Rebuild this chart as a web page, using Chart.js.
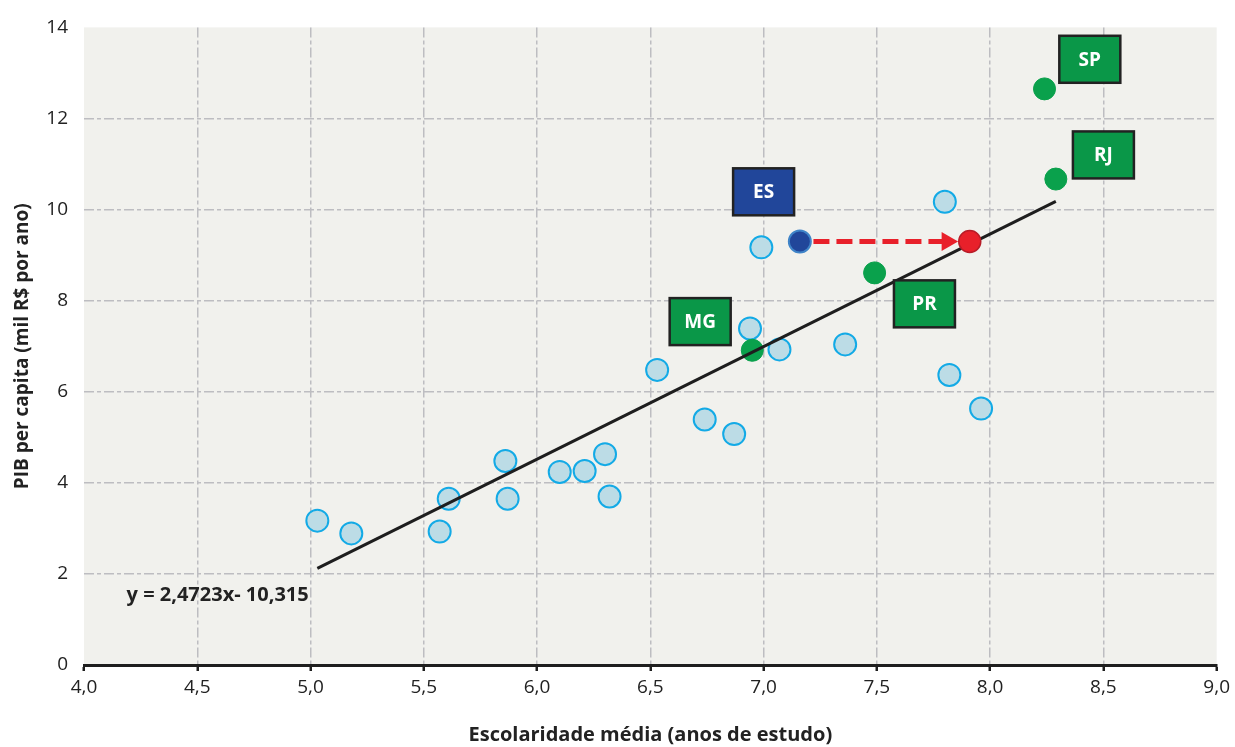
<!DOCTYPE html>
<html>
<head>
<meta charset="utf-8">
<script src="https://cdn.jsdelivr.net/npm/chart.js@4.4.0/dist/chart.umd.min.js"></script>
<style>
    html, body { margin: 0; padding: 0; background: #fff; }
    #wrap { width: 1235px; height: 747px; }
</style>
</head>
<body>
<div id="wrap"><canvas id="scatter"></canvas></div>
<script>
// other states (light blue dots): escolaridade x PIB per capita
const otherX = [5.03, 5.18, 5.57, 5.61, 5.86, 5.87, 6.10, 6.21, 6.30, 6.32, 6.53, 6.74, 6.87, 6.94, 6.99, 7.07, 7.36, 7.80, 7.82, 7.96];
const otherY = [3.17, 2.89, 2.93, 3.65, 4.48, 3.65, 4.24, 4.26, 4.63, 3.70, 6.48, 5.39, 5.07, 7.39, 9.17, 6.93, 7.04, 10.17, 6.37, 5.63];

// highlighted states
const greenStates = ['MG', 'PR', 'SP', 'RJ'];
const greenX = [6.95, 7.49, 8.24, 8.29];
const greenY = [6.91, 8.61, 12.65, 10.67];
const esPoint = { x: 7.16, y: 9.30 };
const targetPoint = { x: 7.91, y: 9.30 };
const arrowX = [7.22, 7.81];

// label boxes (where the tag sits)
const tagNames = ['ES', 'SP', 'RJ', 'MG', 'PR'];
const tagX = [7.00, 8.44, 8.50, 6.72, 7.71];
const tagY = [10.39, 13.30, 11.20, 7.54, 7.93];

// trend line y = 2,4723x - 10,315
const slope = 2.4723;
const intercept = -10.315;
const trendX = [5.03, 8.29];
const equationText = 'y = 2,4723x- 10,315';
const equationPos = { x: 4.59, y: 1.52 };

const xTicks = [4, 4.5, 5, 5.5, 6, 6.5, 7, 7.5, 8, 8.5, 9];
const yTicks = [0, 2, 4, 6, 8, 10, 12, 14];

const FONT = '"Open Sans", Lato, sans-serif';

const plotBg = {
    id: 'plotBg',
    beforeDraw(chart) {
        const { ctx, chartArea: a } = chart;
        ctx.save();
        ctx.fillStyle = '#f1f1ed';
        ctx.fillRect(a.left, a.top, a.right - a.left, a.bottom - a.top);
        ctx.restore();
    }
};

const tags = {
    id: 'tags',
    afterDatasetsDraw(chart) {
        const { ctx, scales: { x, y } } = chart;
        ctx.save();
        tagNames.forEach((name, i) => {
            const cx = x.getPixelForValue(tagX[i]);
            const cy = y.getPixelForValue(tagY[i]);
            const w = 61, h = 47;
            ctx.fillStyle = name === 'ES' ? '#21469a' : '#0a9748';
            ctx.fillRect(cx - w / 2, cy - h / 2, w, h);
            ctx.lineWidth = 2.5;
            ctx.strokeStyle = '#222';
            ctx.strokeRect(cx - w / 2, cy - h / 2, w, h);
            ctx.fillStyle = '#fff';
            ctx.font = 'bold 19px ' + FONT;
            ctx.textAlign = 'center';
            ctx.textBaseline = 'middle';
            ctx.fillText(name, cx, cy + 1);
        });
        ctx.fillStyle = '#222';
        ctx.font = 'bold 20px ' + FONT;
        ctx.textAlign = 'center';
        ctx.textBaseline = 'middle';
        ctx.fillText(equationText, x.getPixelForValue(equationPos.x), y.getPixelForValue(equationPos.y));
        ctx.restore();
    }
};

const fmt = v => v.toFixed(1).replace('.', ',');

new Chart(document.getElementById('scatter'), {
    type: 'scatter',
    data: {
        datasets: [
            {
                label: 'target',
                data: [targetPoint],
                backgroundColor: '#e8202a',
                borderColor: '#b81d28',
                borderWidth: 1.5,
                pointRadius: 11,
                order: 0
            },
            {
                label: 'arrow',
                data: arrowX.map(v => ({ x: v, y: esPoint.y })),
                showLine: true,
                borderColor: '#e8202a',
                backgroundColor: '#e8202a',
                borderWidth: 5,
                borderDash: [16, 7],
                pointStyle: 'triangle',
                rotation: 90,
                pointRadius: [0, 11],
                pointBorderWidth: 0,
                order: 1
            },
            {
                label: 'trend',
                data: trendX.map(v => ({ x: v, y: slope * v + intercept })),
                showLine: true,
                borderColor: '#1e1e1e',
                borderWidth: 3,
                pointRadius: 0,
                order: 1
            },
            {
                label: 'ES',
                data: [esPoint],
                backgroundColor: '#21469a',
                borderColor: '#3f84c8',
                borderWidth: 2,
                pointRadius: 11,
                order: 2
            },
            {
                label: 'destaque',
                data: greenX.map((v, i) => ({ x: v, y: greenY[i] })),
                backgroundColor: '#0aa14c',
                borderColor: '#0aa14c',
                borderWidth: 1,
                pointRadius: 11,
                order: 2
            },
            {
                label: 'UF',
                data: otherX.map((v, i) => ({ x: v, y: otherY[i] })),
                backgroundColor: '#bcdce6',
                borderColor: '#13aae6',
                borderWidth: 2,
                pointRadius: 11,
                order: 3
            }
        ]
    },
    options: {
        responsive: true,
        maintainAspectRatio: false,
        animation: false,
        layout: { padding: { top: 22, right: 17, left: 0, bottom: 0 } },
        plugins: { legend: { display: false }, tooltip: { enabled: false } },
        scales: {
            x: {
                type: 'linear',
                min: 4,
                max: 9,
                afterFit: s => { s.height = 82; },
                afterBuildTicks: s => { s.ticks = xTicks.map(v => ({ value: v })); },
                border: { display: true, color: '#1e1e1e', width: 3, dash: [10, 3, 4, 3] },
                grid: {
                    color: c => (c.tick && (c.tick.value === 4 || c.tick.value === 9)) ? 'rgba(0,0,0,0)' : '#bdbdc1',
                    lineWidth: 1.5,
                    tickColor: '#1e1e1e',
                    tickLength: 6,
                    tickWidth: 2.5,
                    tickBorderDash: []
                },
                ticks: {
                    padding: 5,
                    color: '#222',
                    font: { family: FONT, size: 19 },
                    callback: v => fmt(v)
                },
                title: {
                    display: true,
                    text: 'Escolaridade média (anos de estudo)',
                    color: '#222',
                    font: { family: FONT, size: 20, weight: 'bold' },
                    padding: { top: 0, bottom: 0 }
                }
            },
            y: {
                type: 'linear',
                min: 0,
                max: 14,
                afterFit: s => { s.width = 84; },
                afterBuildTicks: s => { s.ticks = yTicks.map(v => ({ value: v })); },
                border: { display: false, dash: [10, 3, 4, 3] },
                grid: {
                    color: c => (c.tick && (c.tick.value === 0 || c.tick.value === 14)) ? 'rgba(0,0,0,0)' : '#bdbdc1',
                    lineWidth: 1.5,
                    drawTicks: false
                },
                ticks: {
                    padding: 16,
                    color: '#222',
                    font: { family: FONT, size: 19 },
                    callback: v => String(v)
                },
                title: {
                    display: true,
                    text: 'PIB per capita (mil R$ por ano)',
                    color: '#222',
                    font: { family: FONT, size: 19, weight: 'bold' },
                    padding: { top: 11, bottom: 0 }
                }
            }
        }
    },
    plugins: [plotBg, tags]
});
</script>
</body>
</html>
